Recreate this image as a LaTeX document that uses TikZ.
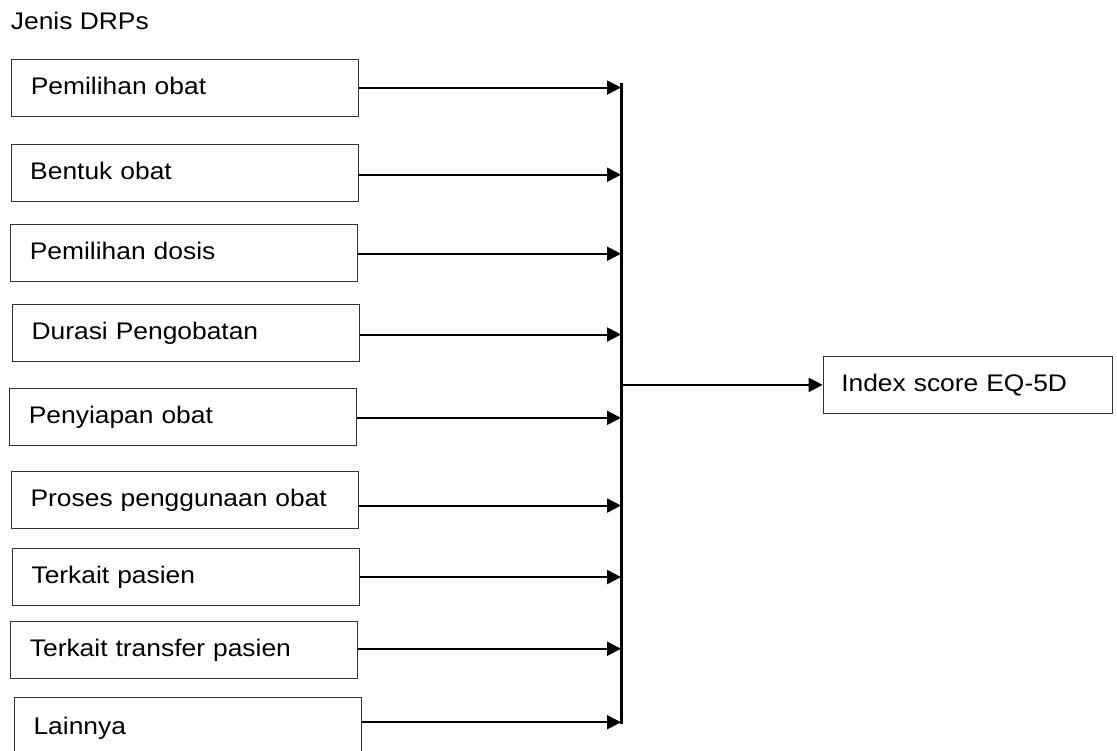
\documentclass[tikz,border=0pt]{standalone}
\usepackage{fontspec}
\setmainfont[FakeStretch=1.1]{Liberation Sans}
\usetikzlibrary{arrows.meta}
\begin{document}
\begin{tikzpicture}[x=1pt,y=-1pt,
  every node/.style={font=\fontsize{24}{28}\selectfont},
  drpbox/.style={draw=black!80, line width=1.1pt, rectangle, anchor=north west,
    minimum height=57pt, inner ysep=0pt, inner xsep=19pt, text width=309pt,
    align=left, text height=17.5pt, text depth=4.5pt},
  outbox/.style={drpbox, text width=253pt, inner xsep=18pt, minimum height=56.7pt},
  arr/.style={line width=2pt, -{Triangle[length=14pt,width=14pt]}},
  bar/.style={line width=3pt}]
\clip (0,0) rectangle (1117,751);
\node[anchor=base west, inner sep=0pt] (title) at (10.7,29.3) {Jenis DRPs};
\node[drpbox] (b1) at (11.3,59) {Pemilihan obat};
\node[drpbox] (b2) at (10.7,144) {Bentuk obat};
\node[drpbox] (b3) at (10.3,224) {Pemilihan dosis};
\node[drpbox] (b4) at (12,303.7) {Durasi Pengobatan};
\node[drpbox] (b5) at (9.3,388.3) {Penyiapan obat};
\node[drpbox] (b6) at (11,470.7) {Proses penggunaan obat};
\node[drpbox] (b7) at (12,548.3) {Terkait pasien};
\node[drpbox] (b8) at (10.3,621) {Terkait transfer pasien};
\node[drpbox, minimum height=60pt] (b9) at (14,697) {Lainnya};
\node[outbox] (out) at (822.7,356) {Index score EQ-5D};
\coordinate (bartop) at (621,83);
\coordinate (barbot) at (621,723.5);
\draw[bar] (bartop) -- (barbot);
\draw[arr] ([yshift=0.5pt]b1.east) -- ([yshift=0.5pt]b1.east -| bartop);
\draw[arr] ([yshift=-1.7pt]b2.east) -- ([yshift=-1.7pt]b2.east -| bartop);
\draw[arr] ([yshift=-0.7pt]b3.east) -- ([yshift=-0.7pt]b3.east -| bartop);
\draw[arr] ([yshift=-1.8pt]b4.east) -- ([yshift=-1.8pt]b4.east -| bartop);
\draw[arr] ([yshift=-0.5pt]b5.east) -- ([yshift=-0.5pt]b5.east -| bartop);
\draw[arr] ([yshift=-5.8pt]b6.east) -- ([yshift=-5.8pt]b6.east -| bartop);
\draw[arr] ([yshift=0.3pt]b7.east) -- ([yshift=0.3pt]b7.east -| bartop);
\draw[arr] ([yshift=1.3pt]b8.east) -- ([yshift=1.3pt]b8.east -| bartop);
\draw[arr] ([yshift=5.3pt]b9.east) -- ([yshift=5.3pt]b9.east -| bartop);
\draw[arr] (bartop |- out.west) -- (out.west);
\end{tikzpicture}
\end{document}
